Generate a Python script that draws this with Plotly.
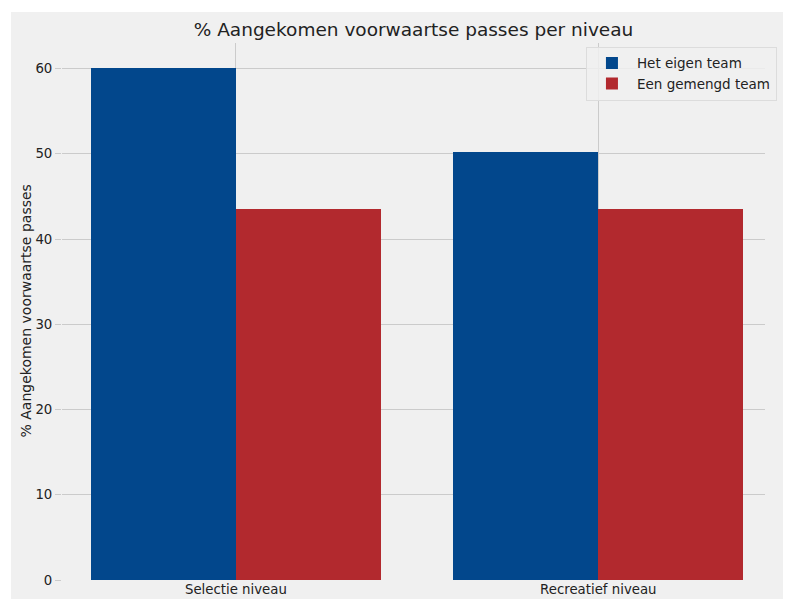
import plotly.graph_objects as go

categories = ["Selectie niveau", "Recreatief niveau"]
eigen_team = [60.1, 50.2]
gemengd_team = [43.5, 43.5]
series_names = ["Het eigen team", "Een gemengd team"]
y_ticks = [0, 10, 20, 30, 40, 50, 60]
y_title = "% Aangekomen voorwaartse passes"

x_pos = list(range(len(categories)))

fig = go.Figure()
fig.add_trace(go.Bar(x=[p - 0.2 for p in x_pos], y=eigen_team, width=0.4,
                     name=series_names[0], marker=dict(color="#02478c", line=dict(width=0))))
fig.add_trace(go.Bar(x=[p + 0.2 for p in x_pos], y=gemengd_team, width=0.4,
                     name=series_names[1], marker=dict(color="#b2292e", line=dict(width=0))))

font_family = "DejaVu Sans, sans-serif"
fig.update_layout(
    width=792, height=599,
    margin=dict(l=62, r=27, t=43, b=19),
    paper_bgcolor="white",
    plot_bgcolor="#f0f0f0",
    font=dict(family=font_family, color="#222222"),
    title=dict(text="% Aangekomen voorwaartse passes per niveau", xref="paper", x=0.5,
               xanchor="center", y=1 - 30 / 599, yanchor="middle",
               font=dict(size=18.5, color="#222222")),
    barmode="overlay",
    bargap=0,
    xaxis=dict(tickvals=x_pos, ticktext=categories, range=[-0.48, 1.46], automargin=False,
               showgrid=True, gridcolor="#cbcbcb", gridwidth=1, zeroline=False,
               ticks="", tickfont=dict(size=13.3, color="#222222"), showline=False),
    yaxis=dict(range=[0, 63.0], tickvals=y_ticks, showgrid=True, gridcolor="#cbcbcb",
               gridwidth=1, zeroline=False, ticks="outside", ticklen=6, tickcolor="#cbcbcb",
               tickfont=dict(size=13.3, color="#222222"), automargin=False),
    annotations=[dict(text=y_title, xref="paper", yref="paper", x=(25 - 62) / 703, y=0.5,
                      textangle=-90, showarrow=False, xanchor="center", yanchor="middle",
                      font=dict(size=14, color="#222222"))],
    legend=dict(x=1.017, xanchor="right", y=0.993, yanchor="top",
                bgcolor="rgba(240,240,240,0.85)", bordercolor="#dcdcdc", borderwidth=1,
                font=dict(size=13.5, color="#222222"), traceorder="normal", itemwidth=40),
    shapes=[dict(type="rect", xref="paper", yref="paper",
                 x0=(11 - 62) / 703, x1=(783 - 62) / 703,
                 y0=(580 - 600) / 537, y1=(580 - 12) / 537,
                 fillcolor="#f0f0f0", line=dict(width=0), layer="below")],
)

fig.write_html("out.html", config={"displayModeBar": False},
               post_script="document.body.style.margin='0';document.body.style.overflow='hidden';")
